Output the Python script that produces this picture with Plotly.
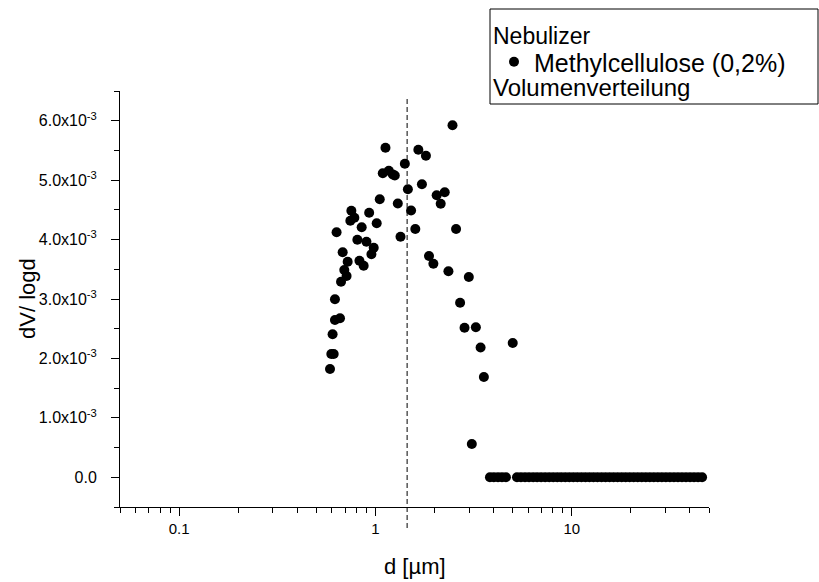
import plotly.graph_objects as go

# ---------------- data ----------------
d_um = [0.587, 0.596, 0.613, 0.605, 0.622, 0.660, 0.622, 0.668, 0.713, 0.694,
        0.722, 0.681, 0.634, 0.745, 0.781, 0.754, 0.929, 0.851, 1.015, 0.809,
        0.900, 0.980, 0.954, 0.829, 0.871, 1.052, 1.090, 1.125, 1.170, 1.226,
        1.255, 1.300, 1.342, 1.412, 1.463, 1.519, 1.596, 1.654, 1.725, 1.808,
        1.874, 1.973, 2.051, 2.150, 2.254, 2.354, 2.469, 2.575, 2.699, 2.843,
        2.990, 3.097, 3.247, 3.432, 3.567, 5.003]
dv_logd = [1.822e-3, 2.075e-3, 2.075e-3, 2.406e-3, 2.647e-3, 2.675e-3, 2.995e-3, 3.291e-3, 3.387e-3, 3.488e-3,
           3.628e-3, 3.786e-3, 4.123e-3, 4.318e-3, 4.368e-3, 4.486e-3, 4.452e-3, 4.207e-3, 4.274e-3, 3.998e-3,
           3.964e-3, 3.863e-3, 3.752e-3, 3.645e-3, 3.560e-3, 4.678e-3, 5.115e-3, 5.546e-3, 5.159e-3, 5.095e-3,
           5.078e-3, 4.607e-3, 4.048e-3, 5.277e-3, 4.846e-3, 4.489e-3, 4.178e-3, 5.512e-3, 4.930e-3, 5.411e-3,
           3.724e-3, 3.594e-3, 4.745e-3, 4.604e-3, 4.796e-3, 3.466e-3, 5.923e-3, 4.178e-3, 2.938e-3, 2.517e-3,
           3.370e-3, 0.560e-3, 2.524e-3, 2.184e-3, 1.688e-3, 2.260e-3]

# size bins with zero volume
d_zero = [3.83, 4.01, 4.21, 4.41, 4.62, 5.26, 5.51, 5.78, 6.06, 6.36, 6.66, 6.98, 7.32, 7.68,
          8.05, 8.44, 8.84, 9.27, 9.72, 10.19, 10.68, 11.20, 11.74, 12.31, 12.90, 13.52,
          14.18, 14.86, 15.58, 16.33, 17.12, 17.95, 18.81, 19.72, 20.67, 21.67, 22.72,
          23.82, 24.97, 26.17, 27.44, 28.76, 30.15, 31.61, 33.14, 34.74, 36.41, 38.17,
          40.02, 41.95, 43.98, 46.10]
dv_zero = [0.0] * len(d_zero)

median_d = 1.45

y_tick_vals = [0.0, 1e-3, 2e-3, 3e-3, 4e-3, 5e-3, 6e-3]
y_tick_text = ["0.0", "1.0x10<sup>-3</sup>", "2.0x10<sup>-3</sup>", "3.0x10<sup>-3</sup>",
               "4.0x10<sup>-3</sup>", "5.0x10<sup>-3</sup>", "6.0x10<sup>-3</sup>"]
y_minor_vals = [-0.5e-3, 0.5e-3, 1.5e-3, 2.5e-3, 3.5e-3, 4.5e-3, 5.5e-3, 6.5e-3]
x_tick_vals = [0.1, 1, 10]
x_tick_text = ["0.1", "1", "10"]
x_minor_vals = [0.05, 0.06, 0.07, 0.08, 0.09, 0.2, 0.3, 0.4, 0.5, 0.6, 0.7, 0.8, 0.9,
                2, 3, 4, 5, 6, 7, 8, 9, 20, 30, 40, 50]

FONT = "Arial, Liberation Sans, sans-serif"

# plot-area geometry in pixels (for placing paper-anchored items)
L, R, T, B = 120, 709, 91, 507
W, H = R - L, B - T


def px(x):
    return (x - L) / W


def py(y):
    return (B - y) / H


fig = go.Figure()
fig.add_trace(go.Scatter(
    x=d_um + d_zero, y=dv_logd + dv_zero, mode="markers",
    name="Methylcellulose (0,2%)",
    marker=dict(color="black", size=10, line=dict(width=0)),
))

# median line
fig.add_shape(type="line", xref="x", yref="paper", x0=median_d, x1=median_d,
              y0=py(528), y1=py(99), line=dict(color="black", width=1, dash="5px,3px"))

# legend box
fig.add_shape(type="rect", xref="paper", yref="paper",
              x0=px(490), x1=px(818), y0=py(104), y1=py(9),
              line=dict(color="black", width=1), fillcolor="rgba(0,0,0,0)")

fig.add_annotation(xref="paper", yref="paper", x=px(491), y=py(36), xanchor="left", yanchor="middle",
                   text="Nebulizer", showarrow=False, font=dict(size=23, color="black", family=FONT))
fig.add_annotation(xref="paper", yref="paper", x=px(491), y=py(87), xanchor="left", yanchor="middle",
                   text="Volumenverteilung", showarrow=False, font=dict(size=24, color="black", family=FONT))

# axis titles
fig.add_annotation(xref="paper", yref="paper", x=px(27), y=py(299), xanchor="center", yanchor="middle",
                   text="dV/ logd", textangle=-90, showarrow=False,
                   font=dict(size=22, color="black", family=FONT))
fig.add_annotation(xref="paper", yref="paper", x=0.5, y=py(566), xanchor="center", yanchor="middle",
                   text="d [µm]", showarrow=False, font=dict(size=22, color="black", family=FONT))

fig.update_layout(
    width=819, height=582,
    margin=dict(l=L, r=819 - R, t=T, b=582 - B),
    paper_bgcolor="white", plot_bgcolor="white",
    font=dict(family=FONT, color="black", size=15),
    showlegend=True,
    legend=dict(x=px(494), y=py(62), xanchor="left", yanchor="middle",
                bgcolor="rgba(0,0,0,0)", borderwidth=0,
                font=dict(size=25, family=FONT, color="black")),
    xaxis=dict(type="log", range=[-1.30103, 1.69897],
               tickvals=x_tick_vals, ticktext=x_tick_text,
               ticks="outside", ticklen=8, tickwidth=1, tickcolor="black",
               showline=True, linecolor="black", linewidth=1,
               showgrid=False, zeroline=False,
               minor=dict(tickvals=x_minor_vals, ticks="outside", ticklen=5,
                          tickcolor="black", showgrid=False),
               tickfont=dict(size=15)),
    yaxis=dict(range=[-0.5e-3, 6.5e-3],
               tickvals=y_tick_vals, ticktext=y_tick_text,
               ticks="outside", ticklen=8, tickwidth=1, tickcolor="black",
               showline=True, linecolor="black", linewidth=1,
               showgrid=False, zeroline=False, ticklabelstandoff=11,
               minor=dict(tickvals=y_minor_vals, ticks="outside", ticklen=5,
                          tickcolor="black", showgrid=False),
               tickfont=dict(size=16)),
)

fig.write_html("out.html", config={"displayModeBar": False},
               post_script="document.body.style.margin='0';")
